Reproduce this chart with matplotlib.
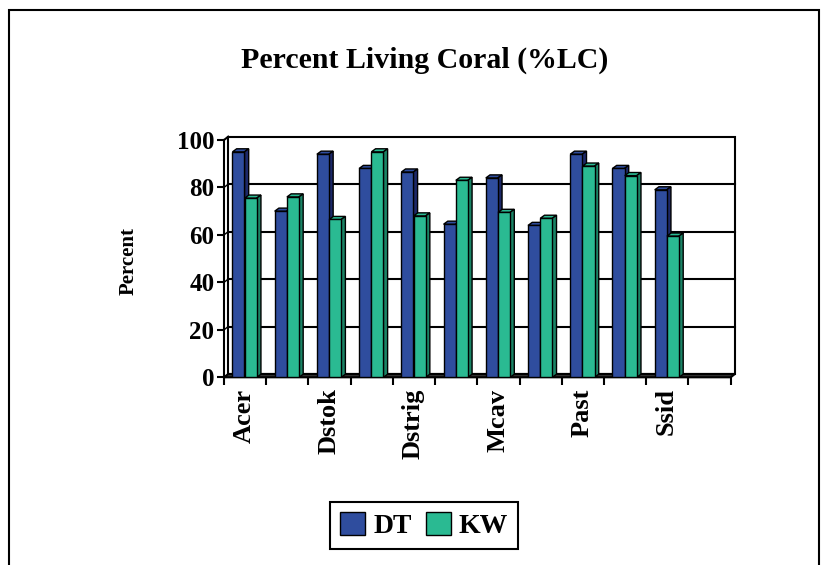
import matplotlib
matplotlib.use('Agg')
import matplotlib.pyplot as plt
from matplotlib.patches import Polygon, Rectangle, Patch

plt.rcParams['font.family'] = ['Liberation Serif', 'DejaVu Serif']
plt.rcParams['font.weight'] = 'bold'

# data
species = ['Acer', '', 'Dstok', '', 'Dstrig', '', 'Mcav', '', 'Past', '', 'Ssid', '']
dt = [95, 70, 94, 88, 86.5, 64.5, 84, 64, 94, 88, 79]
kw = [75.5, 76, 66.5, 95, 68, 83, 69.5, 67, 89, 85, 59.5]
series_names = ['DT', 'KW']

front_colors = ['#2F4D9E', '#2ABA92']
side_colors = ['#1C2868', '#1A8466']

fig = plt.figure(figsize=(8.27, 5.65), dpi=100)
ax = fig.add_axes([224 / 827, 1 - 377.3 / 565, 506.7 / 827, 237.3 / 565])
ax.set_xlim(0, len(species))
ax.set_ylim(0, 100)
for s in ax.spines.values():
    s.set_visible(False)

# 3D walls (depth offsets in data units)
dx, dy = 0.1, 1.4
n = len(species)
wall = Rectangle((dx, dy), n, 100, facecolor='white', edgecolor='black',
                 lw=1.5, clip_on=False, zorder=0)
ax.add_patch(wall)
for g in range(20, 100, 20):
    ax.plot([dx, n + dx], [g + dy, g + dy], color='black', lw=1.5, zorder=1, clip_on=False)
    ax.plot([0, dx], [g, g + dy], color='black', lw=1.0, zorder=1, clip_on=False)
ax.plot([0, 0], [0, 100], color='black', lw=1.5, clip_on=False, zorder=1)
ax.plot([0, dx], [100, 100 + dy], color='black', lw=1.5, clip_on=False, zorder=1)
floor = Polygon([(0, 0), (n, 0), (n + dx, dy), (dx, dy)], closed=True,
                facecolor='#303030', edgecolor='black', lw=1.5, clip_on=False, zorder=1)
ax.add_patch(floor)

# bars with a small 3D top and side
bw = 0.285
offsets = [0.2, 0.49]
bdx, bdy = 0.1, 1.3
for k, vals in enumerate([dt, kw]):
    xs = [i + offsets[k] for i in range(len(vals))]
    ax.bar(xs, vals, width=bw, align='edge', color=front_colors[k],
           edgecolor='black', lw=1.0, zorder=3 + 2 * k)
    for x0, h in zip(xs, vals):
        top = Polygon([(x0, h), (x0 + bw, h), (x0 + bw + bdx, h + bdy), (x0 + bdx, h + bdy)],
                      closed=True, facecolor=front_colors[k], edgecolor='black',
                      lw=1.0, zorder=2 + 2 * k)
        side = Polygon([(x0 + bw, 0), (x0 + bw + bdx, bdy), (x0 + bw + bdx, h + bdy), (x0 + bw, h)],
                       closed=True, facecolor=side_colors[k], edgecolor='black',
                       lw=1.0, zorder=2 + 2 * k)
        ax.add_patch(top)
        ax.add_patch(side)

# ticks
ax.set_yticks(range(0, 101, 20))
ax.tick_params(axis='y', length=5, width=1.5, pad=2, labelsize=18)
ax.set_xticks(range(0, n + 1))
ax.set_xticklabels([])
ax.tick_params(axis='x', which='major', length=6, width=1.5)
ax.set_xticks([i + 0.48 for i in range(n)], minor=True)
ax.set_xticklabels(species, minor=True, rotation=90, fontsize=19, fontweight='bold')
ax.tick_params(axis='x', which='minor', length=0, pad=8)
for lab in ax.get_yticklabels():
    lab.set_fontweight('bold')

ax.set_ylabel('Percent', fontsize=15, fontweight='bold')
ax.yaxis.set_label_coords(-0.168, 0.49)

fig.text(425 / 827, 1 - 60 / 565, 'Percent Living Coral (%LC)', ha='center', va='center',
         fontsize=21.5, fontweight='bold')

handles = [Patch(facecolor=front_colors[i], edgecolor='black', lw=1.0) for i in range(2)]
leg = fig.legend(handles, series_names, loc='center', bbox_to_anchor=(424 / 827, 1 - 525.5 / 565),
                 ncol=2, fancybox=False, framealpha=1, edgecolor='black',
                 prop={'size': 20, 'weight': 'bold'}, handlelength=0.9, handleheight=0.9,
                 handletextpad=0.3, columnspacing=0.5, borderpad=0.35)
leg.get_frame().set_linewidth(1.5)

# outer chart border
fig.patches.append(Rectangle((9 / 827, -0.1), 810 / 827, 1.1 - 10 / 565, transform=fig.transFigure,
                             fill=False, edgecolor='black', lw=1.5))

fig.savefig('out.png', dpi=100)
